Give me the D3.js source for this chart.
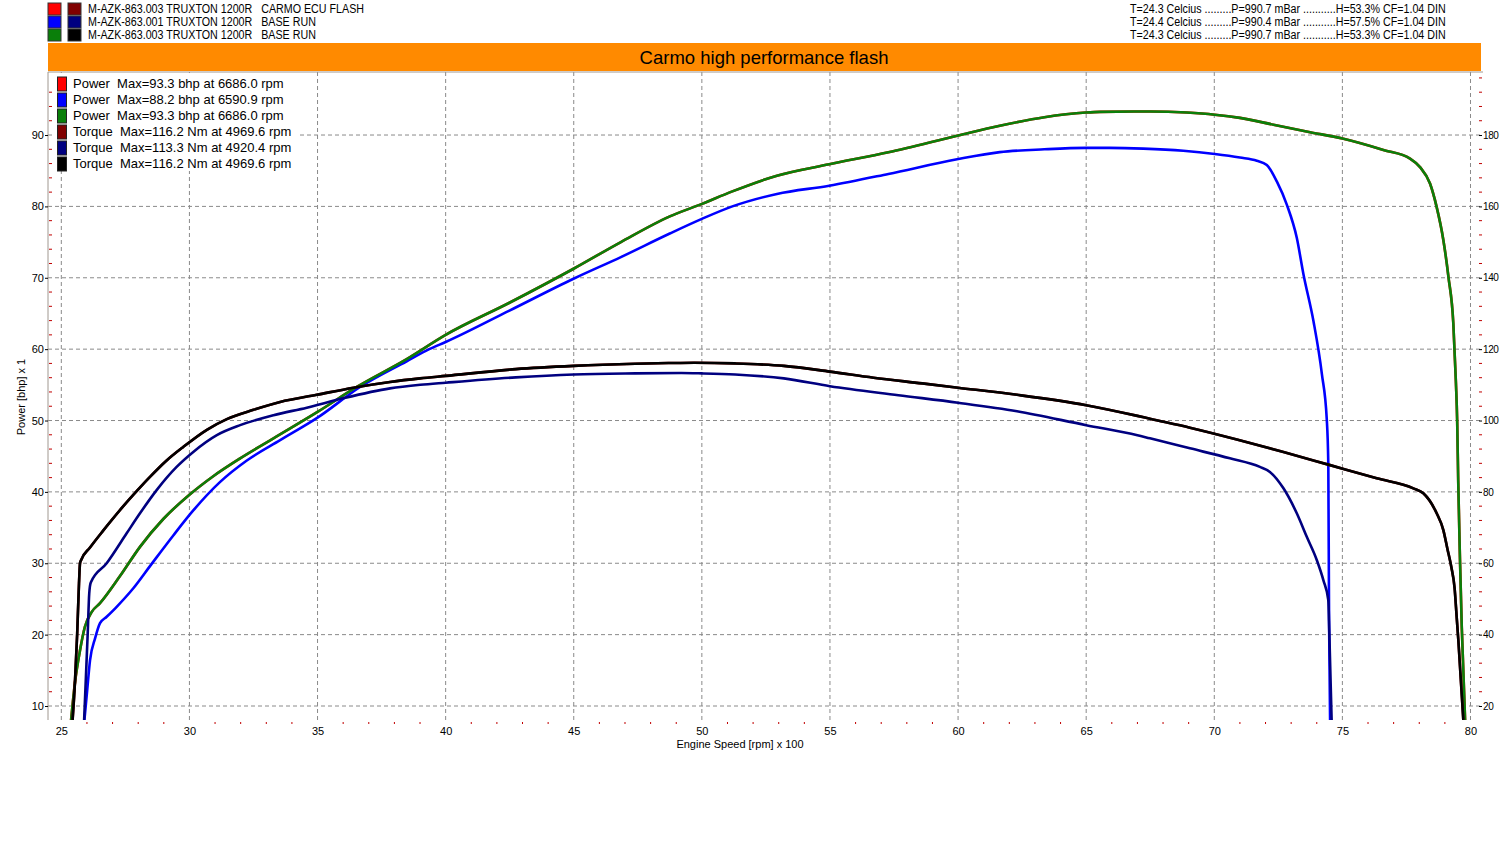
<!DOCTYPE html>
<html>
<head>
<meta charset="utf-8">
<script src="https://cdn.jsdelivr.net/npm/d3@7"></script>
<style>
  body { margin: 0; background: #fff; }
  svg { display: block; font-family: "Liberation Sans", Arial, sans-serif; }
  .hdr { font-size: 12px; white-space: pre; }
</style>
</head>
<body>
<svg id="chart" width="1500" height="850"></svg>
<script>
// header rows
const runNames = [
    'M-AZK-863.003 TRUXTON 1200R   CARMO ECU FLASH',
    'M-AZK-863.001 TRUXTON 1200R   BASE RUN',
    'M-AZK-863.003 TRUXTON 1200R   BASE RUN'
];
const runConditions = [
    'T=24.3 Celcius .........P=990.7 mBar ...........H=53.3% CF=1.04 DIN',
    'T=24.4 Celcius .........P=990.4 mBar ...........H=57.5% CF=1.04 DIN',
    'T=24.3 Celcius .........P=990.7 mBar ...........H=53.3% CF=1.04 DIN'
];
const powerColors = ['#ff0000', '#0000ff', '#0a7f0a'];
const torqueColors = ['#800000', '#000080', '#000000'];
const legendLabels = [
    'Power  Max=93.3 bhp at 6686.0 rpm',
    'Power  Max=88.2 bhp at 6590.9 rpm',
    'Power  Max=93.3 bhp at 6686.0 rpm',
    'Torque  Max=116.2 Nm at 4969.6 rpm',
    'Torque  Max=113.3 Nm at 4920.4 rpm',
    'Torque  Max=116.2 Nm at 4969.6 rpm'
];
const title = 'Carmo high performance flash';

const rpmTicks = [25, 30, 35, 40, 45, 50, 55, 60, 65, 70, 75, 80];
const powerTicks = [10, 20, 30, 40, 50, 60, 70, 80, 90];
const torqueTicks = [20, 40, 60, 80, 100, 120, 140, 160, 180];

// [rpm x 100, bhp]
const power003 = [
    [25.38, 8.0], [25.53, 13.2], [25.73, 17.8], [25.92, 21.1], [26.19, 23.2], [26.51, 24.4],
    [27.29, 28.2], [28.07, 32.3], [28.98, 36.2], [30.0, 39.6], [30.93, 42.2], [31.98, 44.7],
    [33.28, 47.5], [35.0, 51.2], [36.53, 54.7], [38.48, 58.6], [40.0, 62.0], [42.49, 66.5],
    [45.01, 71.3], [46.84, 75.0], [48.75, 78.6], [50.0, 80.35], [51.19, 82.1], [52.93, 84.3],
    [54.97, 85.9], [57.28, 87.6], [59.96, 89.9], [61.63, 91.3], [63.37, 92.5], [64.99, 93.15],
    [65.54, 93.25], [66.86, 93.3], [67.5, 93.3], [68.93, 93.15], [70.02, 92.85], [71.0, 92.4],
    [72.31, 91.45], [73.74, 90.4], [75.0, 89.5], [76.6, 87.9], [77.64, 86.7], [78.03, 85.5],
    [78.42, 83.2], [78.68, 79.9], [78.94, 75.3], [79.14, 70.1], [79.33, 63.6], [79.43, 55.4],
    [79.48, 50.0], [79.52, 41.65], [79.59, 30.5], [79.66, 21.0], [79.79, 8.0]
];
const power001 = [
    [25.9, 8.0], [26.01, 12.24], [26.12, 16.4], [26.32, 19.5], [26.51, 21.6], [26.77, 22.5],
    [27.16, 23.9], [27.81, 26.5], [28.46, 29.6], [29.37, 33.9], [30.15, 37.4], [31.2, 41.4],
    [32.24, 44.4], [33.54, 47.25], [35.0, 50.4], [36.66, 54.7], [38.48, 58.3], [39.36, 60.0],
    [40.0, 61.0], [42.49, 65.4], [45.01, 69.9], [46.84, 72.9], [48.75, 76.2], [50.0, 78.25],
    [51.19, 80.0], [52.93, 81.75], [54.97, 82.9], [57.28, 84.55], [59.96, 86.6], [61.63, 87.6],
    [63.37, 88.0], [65.0, 88.2], [65.91, 88.2], [67.23, 88.1], [68.79, 87.8], [70.02, 87.35],
    [71.0, 86.85], [71.66, 86.4], [72.05, 85.8], [72.44, 83.5], [72.83, 80.25], [73.22, 75.6],
    [73.48, 70.5], [73.87, 63.95], [74.2, 56.5], [74.39, 50.2], [74.45, 44.0], [74.48, 22.0],
    [74.52, 8.0]
];
// [rpm x 100, Nm]
const torque003 = [
    [25.44, 16.1], [25.53, 26.4], [25.62, 40.4], [25.69, 54.4], [25.73, 60.0], [25.76, 60.7],
    [26.12, 64.4], [26.64, 69.2], [27.42, 76.0], [27.94, 80.2], [28.46, 84.2], [29.11, 88.8],
    [29.76, 92.6], [30.68, 97.4], [31.46, 100.4], [32.5, 103.0], [33.54, 105.2], [34.97, 107.2],
    [36.4, 109.2], [37.83, 110.8], [39.0, 111.8], [40.0, 112.5], [42.74, 114.4], [45.0, 115.3],
    [47.4, 115.9], [48.7, 116.1], [49.7, 116.2], [51.3, 116.0], [53.2, 115.3], [55.0, 113.7],
    [56.7, 112.0], [58.6, 110.4], [60.0, 109.2], [62.3, 107.2], [65.0, 104.3], [67.0, 101.3],
    [67.49, 100.5], [69.05, 98.0], [70.88, 94.7], [72.7, 91.2], [74.52, 87.5], [76.34, 83.8],
    [77.77, 81.0], [78.16, 79.6], [78.68, 74.0], [78.94, 69.3], [79.1, 64.0], [79.25, 59.0],
    [79.38, 53.0], [79.46, 45.0], [79.53, 38.0], [79.72, 16.1]
];
const torque001 = [
    [25.89, 16.1], [25.96, 28.2], [26.03, 40.4], [26.09, 51.6], [26.15, 54.6], [26.77, 60.0],
    [27.55, 68.4], [28.07, 74.0], [28.72, 80.5], [29.5, 87.0], [30.15, 91.2], [31.07, 95.9],
    [31.98, 98.7], [33.28, 101.5], [34.58, 103.6], [35.88, 106.0], [37.83, 109.0], [39.01, 110.0],
    [40.0, 110.6], [42.74, 112.1], [45.0, 112.9], [47.4, 113.2], [49.2, 113.3], [50.0, 113.2],
    [51.3, 112.9], [53.2, 111.8], [55.0, 109.6], [57.67, 107.1], [60.0, 105.0], [62.3, 102.6],
    [65.0, 98.7], [67.0, 95.9], [67.49, 95.0], [69.05, 92.2], [70.61, 89.4], [71.78, 87.0],
    [72.17, 85.6], [72.7, 81.0], [73.22, 74.0], [73.61, 67.4], [74.0, 60.9], [74.26, 55.2],
    [74.45, 49.7], [74.49, 40.4], [74.58, 16.1]
];
// run .003 appears twice (flash + base run), same file
const powerRuns = [power003, power001, power003];
const torqueRuns = [torque003, torque001, torque003];

const svg = d3.select('#chart');
const plotLeft = 48, plotRight = 1481, plotTop = 72, plotBottom = 720;

const x = d3.scaleLinear().domain([24.48, 80.41]).range([plotLeft, plotRight]);
const yPower = d3.scaleLinear().domain([8.04, 98.83]).range([plotBottom, plotTop]);
const yTorque = d3.scaleLinear().domain([16.08, 197.66]).range([plotBottom, plotTop]);

// header legend
const hdr = svg.append('g');
runNames.forEach((name, i) => {
    const yy = 3 + i * 13;
    hdr.append('rect').attr('x', 48).attr('y', yy).attr('width', 13).attr('height', 12)
        .attr('fill', powerColors[i]).attr('stroke', '#333');
    hdr.append('rect').attr('x', 68).attr('y', yy).attr('width', 13).attr('height', 12)
        .attr('fill', torqueColors[i]).attr('stroke', '#333');
    hdr.append('text').attr('class', 'hdr').attr('x', 88).attr('y', yy + 10).text(name);
    hdr.append('text').attr('class', 'hdr').attr('x', 1130).attr('y', yy + 10).text(runConditions[i]);
});
// the dyno software uses a narrow bitmap font, squeeze to match
const hdrTexts = hdr.selectAll('text');
const squeeze = 276 / hdrTexts.node().getComputedTextLength();
hdrTexts.each(function () {
    d3.select(this).attr('textLength', this.getComputedTextLength() * squeeze)
        .attr('lengthAdjust', 'spacingAndGlyphs');
});

// title band
svg.append('rect').attr('x', plotLeft).attr('y', 43).attr('width', plotRight - plotLeft).attr('height', 28)
    .attr('fill', '#ff8a00');
svg.append('text').attr('x', 764).attr('y', 63.5).attr('text-anchor', 'middle')
    .attr('font-size', 18.5).text(title);

// grid
const grid = svg.append('g').attr('stroke', '#8a8a8a').attr('stroke-dasharray', '4,3');
grid.selectAll('.vg').data(rpmTicks).join('line')
    .attr('x1', d => x(d)).attr('x2', d => x(d)).attr('y1', plotTop).attr('y2', plotBottom);
grid.selectAll('.hg').data(powerTicks).join('line')
    .attr('x1', plotLeft).attr('x2', plotRight).attr('y1', d => yPower(d)).attr('y2', d => yPower(d));

// frame
svg.append('path').attr('d', `M${plotLeft},${plotBottom}V${plotTop}H${plotRight + 2}`)
    .attr('fill', 'none').attr('stroke', '#a09890');

// axes
const axisFont = g => g.attr('font-family', '"Liberation Sans", Arial, sans-serif').attr('font-size', 11);

const xAxis = svg.append('g').attr('transform', `translate(0,${plotBottom + 4})`)
    .call(d3.axisBottom(x).tickValues(rpmTicks).tickSize(0).tickPadding(3).tickFormat(d3.format('d')))
    .call(axisFont);
xAxis.select('.domain').remove();

const xMinor = d3.range(25, 81).filter(v => v % 5 !== 0);
svg.append('g').selectAll('rect').data(xMinor).join('rect')
    .attr('x', d => x(d) - 0.5).attr('y', plotBottom + 2).attr('width', 1).attr('height', 2).attr('fill', '#c00000');

const yAxisL = svg.append('g').attr('transform', `translate(${plotLeft},0)`)
    .call(d3.axisLeft(yPower).tickValues(powerTicks).tickSize(3).tickPadding(1).tickFormat(d3.format('d')))
    .call(axisFont);
yAxisL.select('.domain').remove();

const yAxisR = svg.append('g').attr('transform', `translate(${plotRight - 2},0)`)
    .call(d3.axisRight(yTorque).tickValues(torqueTicks).tickSize(3).tickPadding(1).tickFormat(d3.format('d')))
    .call(axisFont)
    .attr('font-size', 10).attr('letter-spacing', -0.4);
yAxisR.select('.domain').remove();

const powerMinor = d3.range(10, 98, 2).filter(v => v % 10 !== 0);
svg.append('g').selectAll('line').data(powerMinor).join('line')
    .attr('x1', plotLeft + 1).attr('x2', plotLeft + 4).attr('y1', d => yPower(d)).attr('y2', d => yPower(d))
    .attr('stroke', '#c00000');
const torqueMinor = d3.range(20, 197, 4).filter(v => v % 20 !== 0);
svg.append('g').selectAll('line').data(torqueMinor).join('line')
    .attr('x1', plotRight - 2).attr('x2', plotRight + 1).attr('y1', d => yTorque(d)).attr('y2', d => yTorque(d))
    .attr('stroke', '#c00000');

svg.append('text').attr('x', 740).attr('y', 748).attr('text-anchor', 'middle').attr('font-size', 11)
    .text('Engine Speed [rpm] x 100');
svg.append('text').attr('transform', 'translate(25,397) rotate(-90)').attr('text-anchor', 'middle')
    .attr('font-size', 11).text('Power [bhp] x 1');

// curves
svg.append('clipPath').attr('id', 'plot-clip').append('rect')
    .attr('x', plotLeft).attr('y', plotTop).attr('width', plotRight - plotLeft).attr('height', plotBottom - plotTop);
const curves = svg.append('g').attr('clip-path', 'url(#plot-clip)').attr('fill', 'none')
    .attr('stroke-width', 2.6).attr('stroke-linejoin', 'round');

const powerLine = d3.line().x(d => x(d[0])).y(d => yPower(d[1])).curve(d3.curveMonotoneX);
const torqueLine = d3.line().x(d => x(d[0])).y(d => yTorque(d[1])).curve(d3.curveMonotoneX);

powerRuns.forEach((run, i) => {
    curves.append('path').attr('d', powerLine(run)).attr('stroke', powerColors[i]);
});
torqueRuns.forEach((run, i) => {
    curves.append('path').attr('d', torqueLine(run)).attr('stroke', torqueColors[i]);
});

// legend inside plot
const legend = svg.append('g');
legend.append('rect').attr('x', 52).attr('y', plotTop + 1).attr('width', 245).attr('height', 98).attr('fill', '#fff');
const legendColors = powerColors.concat(torqueColors);
legendLabels.forEach((label, i) => {
    const yy = 77 + i * 16;
    legend.append('rect').attr('x', 57.5).attr('y', yy).attr('width', 9).attr('height', 14)
        .attr('fill', legendColors[i]).attr('stroke', '#222');
    legend.append('text').attr('x', 73).attr('y', yy + 11).attr('font-size', 13)
        .style('white-space', 'pre').text(label);
});
</script>
</body>
</html>
